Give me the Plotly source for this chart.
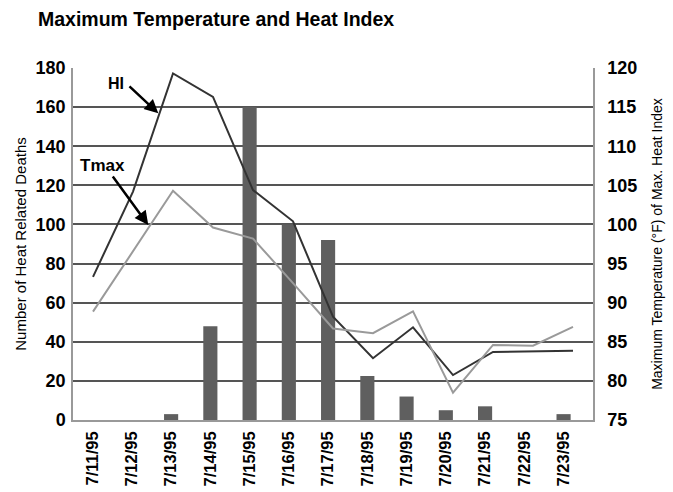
import plotly.graph_objects as go

# Chicago heat wave, July 1995
dates = ["7/11/95", "7/12/95", "7/13/95", "7/14/95", "7/15/95", "7/16/95", "7/17/95",
         "7/18/95", "7/19/95", "7/20/95", "7/21/95", "7/22/95", "7/23/95"]
deaths = [0, 0, 3, 48, 160, 100, 92, 22.5, 12, 5, 7, 0, 3]
heat_index = [93.3, 104.2, 119.3, 116.3, 104.4, 100.4, 88.2, 82.9, 86.85, 80.75, 83.7, 83.8, 83.85]
tmax = [88.85, 96.6, 104.3, 99.6, 98.2, 92.5, 86.7, 86.1, 88.9, 78.5, 84.6, 84.5, 86.9]

left_ticks = list(range(0, 181, 20))
right_ticks = list(range(75, 121, 5))

FONT = "Liberation Sans, Arial, sans-serif"
GRID = "#555555"
AXIS = "#999999"

fig = go.Figure()

fig.add_trace(go.Bar(
    x=dates, y=deaths, width=0.36,
    marker=dict(color="#5f5f5f", line=dict(width=0)),
    xaxis="x", yaxis="y", name="Deaths",
))

fig.add_trace(go.Scatter(
    x=dates, y=heat_index, mode="lines",
    line=dict(color="#333333", width=2),
    xaxis="x2", yaxis="y2", name="HI",
))

fig.add_trace(go.Scatter(
    x=dates, y=tmax, mode="lines",
    line=dict(color="#9a9a9a", width=2),
    xaxis="x2", yaxis="y2", name="Tmax",
))

fig.update_layout(
    width=673, height=492,
    margin=dict(l=73, r=80, t=68, b=72),
    paper_bgcolor="white", plot_bgcolor="white",
    showlegend=False,
    font=dict(family=FONT, color="black"),
    title=dict(
        text="Maximum Temperature and Heat Index",
        font=dict(family=FONT, size=19.5, weight="bold", color="black"),
        xref="container", yref="container",
        x=38 / 673, xanchor="left",
        y=1 - 19 / 492, yanchor="middle",
    ),
    xaxis=dict(
        type="category", categoryarray=dates, range=[-0.5, 12.75],
        showgrid=False, zeroline=False, automargin=False,
        showline=True, linecolor=AXIS, linewidth=1.5,
        ticks="", tickangle=-90,
        tickfont=dict(family=FONT, size=16.5, weight="bold", color="black"),
        ticklabelstandoff=3,
    ),
    xaxis2=dict(
        type="category", categoryarray=dates, range=[-0.5, 12.5],
        overlaying="x", visible=False,
    ),
    yaxis=dict(
        range=[0, 180], tickvals=left_ticks,
        showgrid=True, gridcolor=GRID, gridwidth=2,
        zeroline=False, automargin=False,
        showline=True, linecolor=AXIS, linewidth=1.5,
        ticks="",
        tickfont=dict(family=FONT, size=18, weight="bold", color="black"),
        ticklabelstandoff=2,
        title=dict(text="Number of Heat Related Deaths",
                   font=dict(family=FONT, size=15, color="black"),
                   standoff=5),
    ),
    yaxis2=dict(
        range=[75, 120], tickvals=right_ticks,
        overlaying="y", side="right", anchor="x",
        showgrid=False, zeroline=False, automargin=False,
        showline=True, linecolor=AXIS, linewidth=1.5,
        ticks="",
        tickfont=dict(family=FONT, size=18, weight="bold", color="black"),
        ticklabelstandoff=9,
        title=dict(text="Maximum Temperature (°F) of Max. Heat Index",
                   font=dict(family=FONT, size=14, color="black"),
                   standoff=16),
    ),
)

# Series labels with pointer arrows
fig.add_annotation(x=0.596, y=172.3, xref="x", yref="y", text="HI", showarrow=False,
                   font=dict(family=FONT, size=16, weight="bold", color="black"))
fig.add_annotation(x=1.673, y=156.8, ax=0.901, ay=171.3, xref="x", yref="y",
                   axref="x", ayref="y", text="", showarrow=True,
                   arrowhead=2, arrowsize=1.1, arrowwidth=2.5, arrowcolor="black")
fig.add_annotation(x=0.264, y=130.4, xref="x", yref="y", text="Tmax", showarrow=False,
                   font=dict(family=FONT, size=17, weight="bold", color="black"))
fig.add_annotation(x=1.418, y=99.7, ax=0.486, ay=125.3, xref="x", yref="y",
                   axref="x", ayref="y", text="", showarrow=True,
                   arrowhead=2, arrowsize=1.1, arrowwidth=2.5, arrowcolor="black")

fig.write_html("out.html")
